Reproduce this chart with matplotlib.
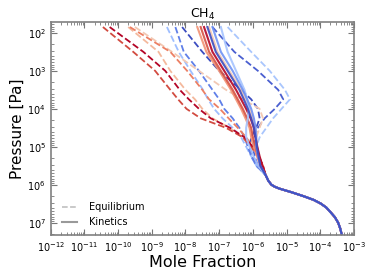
import numpy as np
import matplotlib
matplotlib.use('Agg')
import matplotlib.pyplot as plt
from matplotlib.lines import Line2D

# pressure levels [Pa], top of atmosphere first
pressure = [70, 316, 1000, 3160, 5620, 1.0e4, 1.78e4, 3.16e4, 5.62e4, 1.0e5,
            1.78e5, 3.16e5, 5.62e5, 7.9e5, 1.0e6, 1.12e6, 1.26e6, 1.58e6,
            2.0e6, 2.5e6, 3.16e6, 4.0e6, 5.0e6, 7.1e6, 1.0e7, 1.41e7, 2.1e7]

# log10 mole fraction, upper part (first 12 levels)
eq_red = [-10.45, -9.55, -8.9, -8.45, -8.22, -7.97, -7.55, -6.8, -6.3, -6.05, -5.85, -5.72]
eq_dark_red = [-10.25, -9.25, -8.6, -8.17, -7.9, -7.6, -7.25, -6.68, -6.25, -6.0, -5.82, -5.7]
eq_pink = [-9.7, -8.8, -8.45, -8.0, -7.72, -7.5, -7.2, -6.7, -6.3, -6.05, -5.85, -5.72]
eq_salmon = [-9.65, -8.45, -7.95, -7.5, -7.3, -6.98, -6.72, -6.45, -6.2, -6.0, -5.82, -5.7]
eq_pale = [-9.5, -8.4, -7.6, -6.8, -6.3, -5.8, -5.7, -5.8, -5.9, -5.92, -5.82, -5.72]
eq_light_blue = [-8.55, -8.2, -7.85, -7.48, -7.33, -7.15, -6.9, -6.6, -6.35, -6.2, -6.05, -5.9]
eq_mid_blue = [-8.3, -8.05, -7.6, -7.2, -7.0, -6.85, -6.6, -6.4, -6.25, -6.15, -6.05, -5.9]
eq_bump_blue = [-8.1, -7.5, -7.0, -6.35, -6.05, -5.85, -5.8, -5.9, -6.05, -6.1, -6.0, -5.85]
eq_outer_dark = [-7.2, -6.55, -5.85, -5.25, -5.1, -5.35, -5.65, -5.85, -5.95, -6.0, -5.95, -5.85]
eq_outer_light = [-6.75, -6.05, -5.5, -5.05, -4.9, -5.15, -5.4, -5.6, -5.8, -5.9, -5.85, -5.75]

kin_dark_red = [-7.45, -7.2, -6.85, -6.5, -6.35, -6.2, -6.07, -5.97, -5.92, -5.87, -5.8, -5.72]
kin_red = [-7.55, -7.3, -6.95, -6.6, -6.45, -6.3, -6.17, -6.05, -6.0, -5.92, -5.85, -5.75]
kin_salmon = [-7.65, -7.38, -7.0, -6.65, -6.5, -6.35, -6.22, -6.1, -6.05, -5.97, -5.88, -5.78]
kin_pink = [-7.3, -7.05, -6.7, -6.35, -6.22, -6.1, -6.0, -5.92, -5.9, -5.87, -5.82, -5.75]
kin_light_blue = [-6.95, -6.75, -6.5, -6.25, -6.17, -6.12, -6.15, -6.2, -6.2, -6.1, -5.98, -5.85]
kin_mid_blue = [-7.2, -6.95, -6.6, -6.3, -6.17, -6.05, -5.97, -5.92, -5.9, -5.9, -5.85, -5.78]
kin_dark_blue = [-7.35, -7.1, -6.75, -6.4, -6.27, -6.15, -6.05, -5.97, -5.92, -5.88, -5.83, -5.78]

# deep atmosphere, shared by every profile (last 15 levels)
deep = [-5.62, -5.54, -5.45, -5.36, -5.22, -4.85, -4.5, -4.2, -3.98, -3.82,
        -3.72, -3.57, -3.47, -3.41, -3.36]

xticks = [1e-12, 1e-11, 1e-10, 1e-9, 1e-8, 1e-7, 1e-6, 1e-5, 1e-4, 1e-3]
yticks = [1e2, 1e3, 1e4, 1e5, 1e6, 1e7]

equil = [(eq_light_blue, '#9ebeff'), (eq_mid_blue, '#5f7fe8'),
         (eq_bump_blue, '#3b4cc0'), (eq_outer_dark, '#4a5fd0'),
         (eq_outer_light, '#a9c6fd'), (eq_pale, '#f2c9b4'),
         (eq_pink, '#f4b99d'), (eq_salmon, '#ec7f63'),
         (eq_red, '#d24b40'), (eq_dark_red, '#b40426')]
kinet = [(kin_pink, '#f3c8b2'), (kin_salmon, '#f29274'),
         (kin_red, '#d65244'), (kin_dark_red, '#b40426'),
         (kin_light_blue, '#a5c3fe'), (kin_mid_blue, '#6f92f3'),
         (kin_dark_blue, '#3b4cc0')]

fig = plt.figure(figsize=(3.74, 2.8), dpi=100)
ax = fig.add_axes([0.1355, 0.161, 0.811, 0.760])

for prof, col in equil:
    ax.plot(10**np.array(prof + deep), pressure, '--', color=col, lw=1.3)
for prof, col in kinet:
    ax.plot(10**np.array(prof + deep), pressure, '-', color=col, lw=1.5,
            alpha=0.9)

ax.set_xscale('log')
ax.set_yscale('log')
ax.set_xlim(1e-12, 1e-3)
ax.set_ylim(2.1e7, 52)
ax.set_xticks(xticks)
ax.set_yticks(yticks)
ax.tick_params(which='both', direction='in', top=True, right=True,
               labelsize=7, colors='#777777', labelcolor='black')
ax.tick_params(which='major', length=4)
ax.tick_params(which='minor', length=2)
for sp in ax.spines.values():
    sp.set_color('#808080')
    sp.set_linewidth(1.2)

ax.set_title('CH$_4$', fontsize=9, pad=2)
ax.set_xlabel('Mole Fraction', fontsize=11.5, labelpad=1)
ax.set_ylabel('Pressure [Pa]', fontsize=11, labelpad=2)

handles = [Line2D([], [], ls='--', color='#bbbbbb', lw=1.1),
           Line2D([], [], ls='-', color='#999999', lw=1.5)]
ax.legend(handles, ['Equilibrium', 'Kinetics'], loc='lower left',
          frameon=False, fontsize=7, handlelength=1.6, handletextpad=1.2,
          bbox_to_anchor=(0.007, -0.005))

plt.savefig('out.png', dpi=100)
